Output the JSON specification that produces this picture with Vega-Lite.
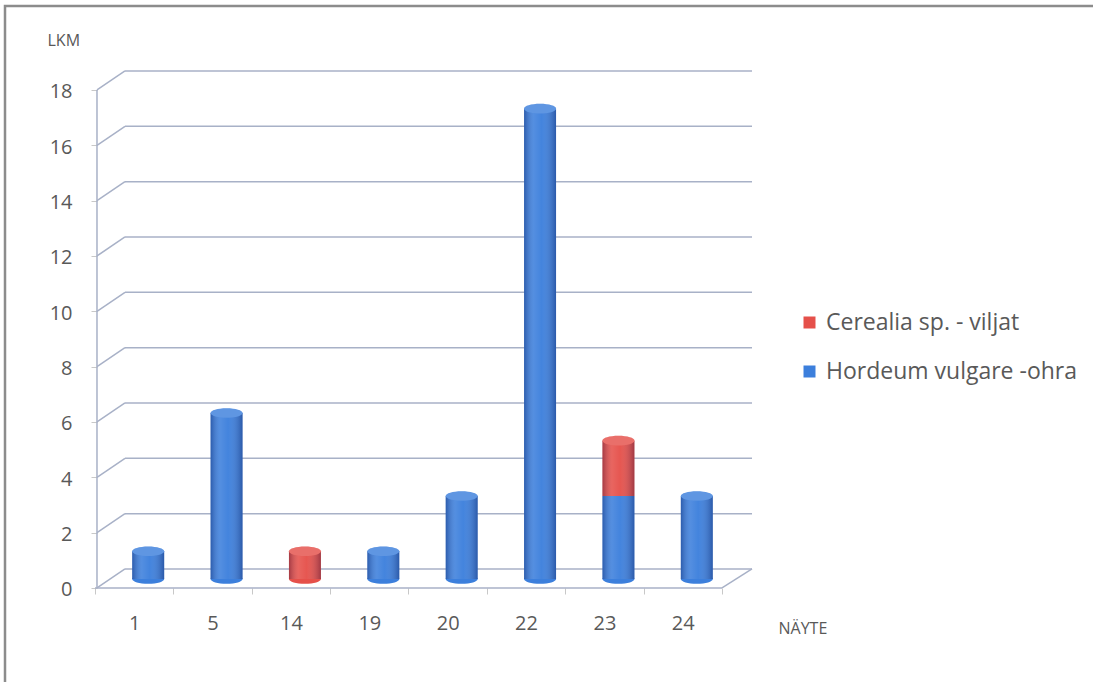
{
  "$schema": "https://vega.github.io/schema/vega-lite/v6.json",
  "width": 1100,
  "height": 690,
  "padding": {"left": 5, "top": 6, "right": 0, "bottom": 0},
  "background": "white",
  "config": {
    "font": "Open Sans",
    "view": {"stroke": "#8c8c8c", "strokeWidth": 2.5},
    "axisX": {
      "orient": "bottom", "offset": -108, "domain": false, "grid": false,
      "tickSize": 6, "tickColor": "#c8c8c8", "tickWidth": 1,
      "labelAngle": 0, "labelFontSize": 20, "labelColor": "#595959", "labelPadding": 19,
      "titleFontSize": 16, "titleFontWeight": "normal", "titleColor": "#595959",
      "titleAlign": "left", "titleBaseline": "middle", "titleX": 773, "titleY": 40
    },
    "axisY": {
      "orient": "left", "offset": -92, "domain": false, "grid": false,
      "tickSize": 6, "tickColor": "#c8c8c8", "tickWidth": 1,
      "labelFontSize": 20, "labelColor": "#595959", "labelPadding": 19, "labelOffset": 2,
      "titleAngle": 0, "titleFontSize": 16, "titleFontWeight": "normal", "titleColor": "#595959",
      "titleAlign": "left", "titleBaseline": "middle", "titleX": -50, "titleY": 34
    }
  },
  "datasets": {
    "counts": [
      {"sample": "1", "species": "Hordeum vulgare -ohra", "n": 1},
      {"sample": "5", "species": "Hordeum vulgare -ohra", "n": 6},
      {"sample": "14", "species": "Cerealia sp. - viljat", "n": 1},
      {"sample": "19", "species": "Hordeum vulgare -ohra", "n": 1},
      {"sample": "20", "species": "Hordeum vulgare -ohra", "n": 3},
      {"sample": "22", "species": "Hordeum vulgare -ohra", "n": 17},
      {"sample": "23", "species": "Hordeum vulgare -ohra", "n": 3},
      {"sample": "23", "species": "Cerealia sp. - viljat", "n": 2},
      {"sample": "24", "species": "Hordeum vulgare -ohra", "n": 3}
    ],
    "ticks": [
      {"v": 0}, {"v": 2}, {"v": 4}, {"v": 6}, {"v": 8},
      {"v": 10}, {"v": 12}, {"v": 14}, {"v": 16}, {"v": 18}
    ],
    "one": [{}]
  },
  "layer": [
    {
      "data": {"name": "ticks"},
      "mark": {"type": "rule", "color": "#a8b1c7", "strokeWidth": 1.5, "xOffset": -9.2, "x2Offset": 69.2, "yOffset": -19},
      "encoding": {
        "x": {"datum": "1", "type": "nominal", "title": "NÄYTE", "axis": {"values": ["1", "5", "14", "19", "20", "22", "23", "24", "_1"], "labelExpr": "datum.value == '_1' ? '' : datum.label", "tickBand": "center", "tickOffset": -39.2, "labelOffset": 39.2}, "scale": {"domain": ["_0", "1", "5", "14", "19", "20", "22", "23", "24", "_1", "_2", "_3", "_4", "_5"], "paddingInner": 0.592, "paddingOuter": 0.3136, "align": 0.7085}},
        "x2": {"datum": "24"},
        "y": {"field": "v", "type": "quantitative", "title": "LKM", "axis": {"values": [0, 2, 4, 6, 8, 10, 12, 14, 16, 18]}, "scale": {"domain": [-3.904, 21.036], "nice": false, "zero": false}}
      }
    },
    {
      "data": {"name": "ticks"},
      "mark": {"type": "rule", "color": "#a8b1c7", "strokeWidth": 1.5, "xOffset": -37.2, "x2Offset": -9.2, "y2Offset": -19},
      "encoding": {
        "x": {"datum": "1", "type": "nominal", "title": "NÄYTE", "scale": {"domain": ["_0", "1", "5", "14", "19", "20", "22", "23", "24", "_1", "_2", "_3", "_4", "_5"], "paddingInner": 0.592, "paddingOuter": 0.3136, "align": 0.7085}},
        "x2": {"datum": "1"},
        "y": {"field": "v", "type": "quantitative", "title": "LKM", "scale": {"domain": [-3.904, 21.036], "nice": false, "zero": false}},
        "y2": {"field": "v"}
      }
    },
    {
      "data": {"name": "one"},
      "mark": {"type": "rule", "color": "#a8b1c7", "strokeWidth": 1.5, "xOffset": -37.2},
      "encoding": {
        "x": {"datum": "1", "type": "nominal", "title": "NÄYTE", "scale": {"domain": ["_0", "1", "5", "14", "19", "20", "22", "23", "24", "_1", "_2", "_3", "_4", "_5"], "paddingInner": 0.592, "paddingOuter": 0.3136, "align": 0.7085}},
        "y": {"datum": 0, "type": "quantitative", "title": "LKM", "scale": {"domain": [-3.904, 21.036], "nice": false, "zero": false}},
        "y2": {"datum": 18}
      }
    },
    {
      "data": {"name": "one"},
      "mark": {"type": "rule", "color": "#a8b1c7", "strokeWidth": 1.5, "xOffset": -39.2, "x2Offset": 39.2},
      "encoding": {
        "x": {"datum": "1", "type": "nominal", "title": "NÄYTE", "scale": {"domain": ["_0", "1", "5", "14", "19", "20", "22", "23", "24", "_1", "_2", "_3", "_4", "_5"], "paddingInner": 0.592, "paddingOuter": 0.3136, "align": 0.7085}},
        "x2": {"datum": "24"},
        "y": {"datum": 0, "type": "quantitative", "title": "LKM", "scale": {"domain": [-3.904, 21.036], "nice": false, "zero": false}}
      }
    },
    {
      "data": {"name": "one"},
      "mark": {"type": "rule", "color": "#a8b1c7", "strokeWidth": 1.5, "xOffset": 39.2, "x2Offset": 69.2, "y2Offset": -19},
      "encoding": {
        "x": {"datum": "24", "type": "nominal", "title": "NÄYTE", "scale": {"domain": ["_0", "1", "5", "14", "19", "20", "22", "23", "24", "_1", "_2", "_3", "_4", "_5"], "paddingInner": 0.592, "paddingOuter": 0.3136, "align": 0.7085}},
        "x2": {"datum": "24"},
        "y": {"datum": 0, "type": "quantitative", "title": "LKM", "scale": {"domain": [-3.904, 21.036], "nice": false, "zero": false}},
        "y2": {"datum": 0}
      }
    },
    {
      "data": {"name": "counts"},
      "transform": [
        {"stack": "n", "groupby": ["sample"], "sort": [{"field": "species", "order": "descending"}], "as": ["y0", "y1"]},
        {"filter": "datum.y0 == 0"}
      ],
      "mark": {"type": "point", "filled": true, "opacity": 1, "strokeWidth": 0, "shape": "M-1,0A1,0.3,0,1,1,1,0A1,0.3,0,1,1,-1,0Z", "size": 1024, "xOffset": 14, "yOffset": -9},
      "encoding": {
        "x": {"field": "sample", "type": "nominal", "title": "NÄYTE", "scale": {"domain": ["_0", "1", "5", "14", "19", "20", "22", "23", "24", "_1", "_2", "_3", "_4", "_5"], "paddingInner": 0.592, "paddingOuter": 0.3136, "align": 0.7085}},
        "y": {"field": "y0", "type": "quantitative", "title": "LKM", "scale": {"domain": [-3.904, 21.036], "nice": false, "zero": false}},
        "color": {"field": "species", "type": "nominal", "title": null, "scale": {"domain": ["Cerealia sp. - viljat", "Hordeum vulgare -ohra"], "range": ["#e5504a", "#3c7fdc"]}}
      }
    },
    {
      "data": {"name": "counts"},
      "transform": [
        {"stack": "n", "groupby": ["sample"], "sort": [{"field": "species", "order": "descending"}], "as": ["y0", "y1"]}
      ],
      "mark": {"type": "bar", "xOffset": 14, "x2Offset": 14, "yOffset": -9, "y2Offset": -9},
      "encoding": {
        "x": {"field": "sample", "type": "nominal", "title": "NÄYTE", "scale": {"domain": ["_0", "1", "5", "14", "19", "20", "22", "23", "24", "_1", "_2", "_3", "_4", "_5"], "paddingInner": 0.592, "paddingOuter": 0.3136, "align": 0.7085}},
        "y": {"field": "y1", "type": "quantitative", "title": "LKM", "scale": {"domain": [-3.904, 21.036], "nice": false, "zero": false}},
        "y2": {"field": "y0"},
        "color": {
          "field": "species", "type": "nominal", "title": null,
          "scale": {"domain": ["Cerealia sp. - viljat", "Hordeum vulgare -ohra"], "range": ["#e5504a", "#3c7fdc"]},
          "legend": {
            "orient": "none", "legendX": 793, "legendY": 305, "padding": 0,
            "labelFontSize": 23, "labelColor": "#595959", "labelOffset": 5, "labelLimit": 400,
            "symbolType": "square", "symbolSize": 144, "symbolStrokeWidth": 0, "symbolOpacity": 0.9,
            "rowPadding": 25
          }
        }
      }
    },
    {
      "data": {"name": "counts"},
      "transform": [
        {"stack": "n", "groupby": ["sample"], "sort": [{"field": "species", "order": "descending"}], "as": ["y0", "y1"]}
      ],
      "mark": {
        "type": "bar", "xOffset": 14, "x2Offset": 14, "yOffset": -9, "y2Offset": -9,
        "fill": {"gradient": "linear", "x1": 0, "x2": 1, "y1": 0, "y2": 0, "stops": [
          {"offset": 0, "color": "rgba(0,0,50,0.28)"},
          {"offset": 0.3, "color": "rgba(255,255,255,0.12)"},
          {"offset": 0.55, "color": "rgba(255,255,255,0.04)"},
          {"offset": 1, "color": "rgba(0,0,50,0.3)"}
        ]}
      },
      "encoding": {
        "x": {"field": "sample", "type": "nominal", "title": "NÄYTE", "scale": {"domain": ["_0", "1", "5", "14", "19", "20", "22", "23", "24", "_1", "_2", "_3", "_4", "_5"], "paddingInner": 0.592, "paddingOuter": 0.3136, "align": 0.7085}},
        "y": {"field": "y1", "type": "quantitative", "title": "LKM", "scale": {"domain": [-3.904, 21.036], "nice": false, "zero": false}},
        "y2": {"field": "y0"}
      }
    },
    {
      "data": {"name": "counts"},
      "transform": [
        {"stack": "n", "groupby": ["sample"], "sort": [{"field": "species", "order": "descending"}], "as": ["y0", "y1"]},
        {"joinaggregate": [{"op": "max", "field": "y1", "as": "top"}], "groupby": ["sample"]},
        {"filter": "datum.y1 == datum.top"}
      ],
      "mark": {"type": "point", "filled": true, "opacity": 1, "strokeWidth": 0, "shape": "M-1,0A1,0.3,0,1,1,1,0A1,0.3,0,1,1,-1,0Z", "size": 1024, "xOffset": 14, "yOffset": -9},
      "encoding": {
        "x": {"field": "sample", "type": "nominal", "title": "NÄYTE", "scale": {"domain": ["_0", "1", "5", "14", "19", "20", "22", "23", "24", "_1", "_2", "_3", "_4", "_5"], "paddingInner": 0.592, "paddingOuter": 0.3136, "align": 0.7085}},
        "y": {"field": "y1", "type": "quantitative", "title": "LKM", "scale": {"domain": [-3.904, 21.036], "nice": false, "zero": false}},
        "color": {"field": "species", "type": "nominal", "title": null, "scale": {"domain": ["Cerealia sp. - viljat", "Hordeum vulgare -ohra"], "range": ["#e5504a", "#3c7fdc"]}}
      }
    },
    {
      "data": {"name": "counts"},
      "transform": [
        {"stack": "n", "groupby": ["sample"], "sort": [{"field": "species", "order": "descending"}], "as": ["y0", "y1"]},
        {"joinaggregate": [{"op": "max", "field": "y1", "as": "top"}], "groupby": ["sample"]},
        {"filter": "datum.y1 == datum.top"}
      ],
      "mark": {"type": "point", "filled": true, "color": "white", "opacity": 0.18, "strokeWidth": 0, "shape": "M-1,0A1,0.3,0,1,1,1,0A1,0.3,0,1,1,-1,0Z", "size": 1024, "xOffset": 14, "yOffset": -9},
      "encoding": {
        "x": {"field": "sample", "type": "nominal", "title": "NÄYTE", "scale": {"domain": ["_0", "1", "5", "14", "19", "20", "22", "23", "24", "_1", "_2", "_3", "_4", "_5"], "paddingInner": 0.592, "paddingOuter": 0.3136, "align": 0.7085}},
        "y": {"field": "y1", "type": "quantitative", "title": "LKM", "scale": {"domain": [-3.904, 21.036], "nice": false, "zero": false}}
      }
    }
  ]
}
